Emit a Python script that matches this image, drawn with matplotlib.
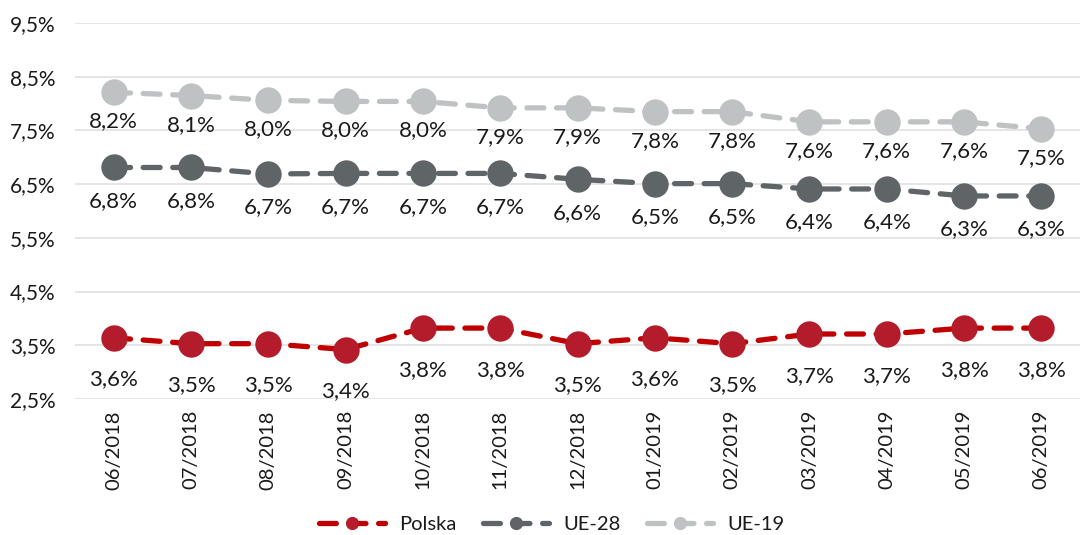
import matplotlib
matplotlib.use("Agg")
import matplotlib.pyplot as plt
from matplotlib.ticker import FixedLocator, FuncFormatter

months = ["06/2018", "07/2018", "08/2018", "09/2018", "10/2018", "11/2018", "12/2018",
          "01/2019", "02/2019", "03/2019", "04/2019", "05/2019", "06/2019"]
polska = [3.64, 3.53, 3.53, 3.42, 3.82, 3.82, 3.53, 3.64, 3.53, 3.71, 3.71, 3.82, 3.82]
ue28 = [6.81, 6.81, 6.69, 6.70, 6.70, 6.70, 6.59, 6.51, 6.51, 6.41, 6.41, 6.28, 6.28]
ue19 = [8.21, 8.15, 8.06, 8.04, 8.04, 7.92, 7.92, 7.85, 7.85, 7.66, 7.66, 7.66, 7.53]
polska_lbl = ["3,6%", "3,5%", "3,5%", "3,4%", "3,8%", "3,8%", "3,5%", "3,6%", "3,5%", "3,7%", "3,7%", "3,8%", "3,8%"]
ue28_lbl = ["6,8%", "6,8%", "6,7%", "6,7%", "6,7%", "6,7%", "6,6%", "6,5%", "6,5%", "6,4%", "6,4%", "6,3%", "6,3%"]
ue19_lbl = ["8,2%", "8,1%", "8,0%", "8,0%", "8,0%", "7,9%", "7,9%", "7,8%", "7,8%", "7,6%", "7,6%", "7,6%", "7,5%"]
yticks = [2.5, 3.5, 4.5, 5.5, 6.5, 7.5, 8.5, 9.5]

plt.rcParams['font.family'] = ['Lato', 'DejaVu Sans']

fig = plt.figure(figsize=(10.82, 5.35), dpi=100)
ax = fig.add_axes([75/1082, 1 - 399/535, (1080-75)/1082, (399-23)/535])

x = list(range(len(months)))
series = [
    ("Polska", polska, polska_lbl, "#C00000", "#B41C2B", 30),
    ("UE-28", ue28, ue28_lbl, "#5F6467", "#5F6467", 24),
    ("UE-19", ue19, ue19_lbl, "#BFC2C2", "#BFC2C2", 21),
]
for name, vals, lbls, lc, mc, off in series:
    ax.plot(x, vals, color=lc, lw=3.8, ls=(0, (3.2, 2.4)), dash_capstyle='round',
            marker='o', markersize=19, markerfacecolor=mc, markeredgecolor=mc,
            markeredgewidth=0, label=name, zorder=3)
    for xi, v, t in zip(x, vals, lbls):
        ax.annotate(t, (xi, v), xytext=(0, -off), textcoords='offset points',
                    ha='center', va='center', fontsize=16, color='#1a1a1a', zorder=4)

ax.set_xlim(-0.5, len(months) - 0.5)
ax.set_ylim(2.5, 9.5)
ax.yaxis.set_major_locator(FixedLocator(yticks))
ax.yaxis.set_major_formatter(FuncFormatter(lambda v, p: f"{v:.1f}%".replace('.', ',')))
ax.set_xticks(x)
ax.set_xticklabels(months, rotation=90, fontsize=14.5, color='#1a1a1a')
ax.tick_params(axis='y', labelsize=15, labelcolor='#1a1a1a', length=0, pad=14)
ax.tick_params(axis='x', length=0, pad=8)
ax.grid(axis='y', color='#E3E3E3', lw=1.3)
ax.set_axisbelow(True)
for s in ax.spines.values():
    s.set_visible(False)

leg = fig.legend(loc='lower center', bbox_to_anchor=(0.51, -0.03), ncol=3, frameon=False,
                 fontsize=14.5, markerscale=0.5, handlelength=3.3, columnspacing=1.3,
                 handletextpad=0.7)
for t in leg.get_texts():
    t.set_color('#1a1a1a')

fig.savefig("out.png", dpi=100)
